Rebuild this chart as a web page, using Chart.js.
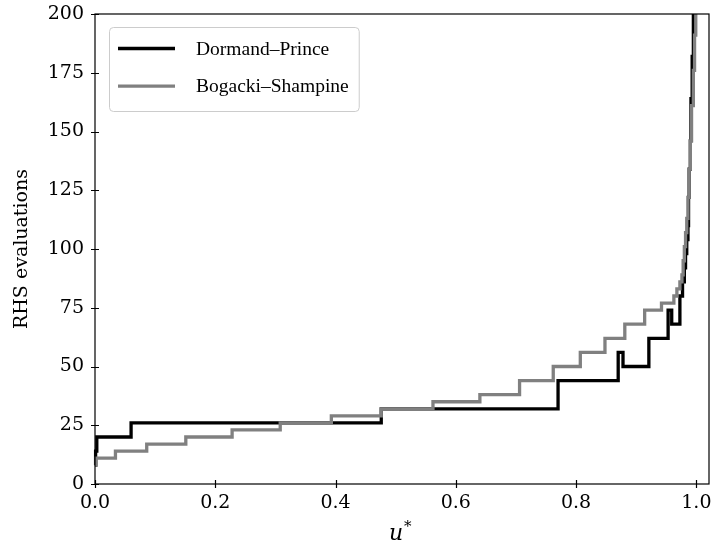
<!DOCTYPE html>
<html>
<head>
<meta charset="utf-8">
<script src="https://cdn.jsdelivr.net/npm/chart.js@4.4.1/dist/chart.umd.min.js"></script>
<style>
  html, body { margin: 0; padding: 0; background: #fff; }
</style>
</head>
<body>
<canvas id="chart" width="714" height="558"></canvas>
<script>
// data: start of each step (u*) and RHS evaluations on that step
const dpU     = [0, 0.001, 0.003, 0.060, 0.476, 0.770, 0.870, 0.878, 0.921, 0.953, 0.959, 0.9726,
                 0.977, 0.980, 0.982, 0.984, 0.986, 0.987, 0.988, 0.990, 0.991, 0.993, 0.995];
const dpEvals = [8, 14, 20, 26, 32, 44, 56, 50, 62, 74, 68, 80,
                 86, 92, 98, 104, 110, 122, 134, 146, 164, 182, 206];

const bsU     = [0, 0.002, 0.034, 0.086, 0.151, 0.228, 0.308, 0.393, 0.476, 0.562, 0.640, 0.706,
                 0.762, 0.807, 0.848, 0.881, 0.914, 0.942, 0.9626, 0.9676, 0.9726, 0.976, 0.978,
                 0.980, 0.982, 0.984, 0.986, 0.988, 0.990, 0.992, 0.995, 0.997, 0.999];
const bsEvals = [8, 11, 14, 17, 20, 23, 26, 29, 32, 35, 38, 44,
                 50, 56, 62, 68, 74, 77, 80, 83, 86, 89, 95,
                 101, 107, 113, 122, 134, 146, 161, 176, 191, 206];

const xTicks = [0, 0.2, 0.4, 0.6, 0.8, 1.0];
const xTickLabels = ['0.0', '0.2', '0.4', '0.6', '0.8', '1.0'];
const yTicks = [0, 25, 50, 75, 100, 125, 150, 175, 200];
const yTickLabels = ['0', '25', '50', '75', '100', '125', '150', '175', '200'];

const seriesNames = ['Dormand\u2013Prince', 'Bogacki\u2013Shampine'];
const seriesColors = ['#000000', '#808080'];

const FONT = 'DejaVu Serif';
const FONT_SIZE = 19;
const LEGEND_FONT = 'Liberation Serif';

const zip = (xs, ys) => xs.map((x, i) => ({ x, y: ys[i] }));

// frame, inout ticks, legend and axis titles (matplotlib look)
const decorations = {
  id: 'decorations',
  afterDatasetsDraw(chart) {
    const { ctx, chartArea: a, scales: { x, y } } = chart;
    ctx.save();
    ctx.strokeStyle = '#000';
    ctx.lineWidth = 1.2;
    ctx.strokeRect(a.left, a.top, a.right - a.left, a.bottom - a.top);

    ctx.beginPath();
    xTicks.forEach(v => {
      const px = Math.round(x.getPixelForValue(v)) + 0.5;
      ctx.moveTo(px, a.bottom - 4);
      ctx.lineTo(px, a.bottom + 4);
    });
    yTicks.forEach(v => {
      const py = Math.round(y.getPixelForValue(v)) + 0.5;
      ctx.moveTo(a.left - 4, py);
      ctx.lineTo(a.left + 4, py);
    });
    ctx.stroke();

    // legend
    ctx.font = `19.5px "${LEGEND_FONT}"`;
    const textX = a.left + 101;
    const widths = seriesNames.map(n => ctx.measureText(n).width);
    const boxL = a.left + 14, boxT = 27, boxB = 111;
    const boxR = textX + Math.max(...widths) + 10;
    ctx.beginPath();
    ctx.roundRect(boxL + 0.5, boxT + 0.5, boxR - boxL, boxB - boxT, 4);
    ctx.fillStyle = 'rgba(255,255,255,0.8)';
    ctx.fill();
    ctx.strokeStyle = '#cccccc';
    ctx.lineWidth = 1;
    ctx.stroke();
    seriesNames.forEach((name, i) => {
      const ly = 48.5 + i * 37.7;
      ctx.beginPath();
      ctx.strokeStyle = seriesColors[i];
      ctx.lineWidth = 3.3;
      ctx.moveTo(a.left + 23, ly);
      ctx.lineTo(a.left + 80, ly);
      ctx.stroke();
      ctx.fillStyle = '#000';
      ctx.textBaseline = 'middle';
      ctx.textAlign = 'left';
      ctx.fillText(name, textX, ly + 1);
    });

    // y title
    ctx.font = `${FONT_SIZE}px "${FONT}"`;
    ctx.save();
    ctx.translate(22, (a.top + a.bottom) / 2);
    ctx.rotate(-Math.PI / 2);
    ctx.textAlign = 'center';
    ctx.textBaseline = 'middle';
    ctx.fillText('RHS evaluations', 0, 0);
    ctx.restore();

    // x title: italic u with superscript asterisk
    const cx = (a.left + a.right) / 2 - 6;
    ctx.font = `italic 22px "${FONT}"`;
    ctx.textAlign = 'left';
    ctx.textBaseline = 'alphabetic';
    const uw = ctx.measureText('u').width;
    ctx.fillText('u', cx - uw / 2, 540);
    ctx.font = `15px "${FONT}"`;
    ctx.fillText('*', cx + uw / 2 + 1, 531);
    ctx.restore();
  }
};

new Chart(document.getElementById('chart'), {
  type: 'line',
  data: {
    datasets: [
      {
        label: seriesNames[0],
        data: zip(dpU, dpEvals),
        borderColor: seriesColors[0],
        borderWidth: 3.3,
        stepped: 'before',
        pointRadius: 0,
        fill: false,
        order: 1,
        clip: { left: 3, right: 0, top: 0, bottom: 0 }
      },
      {
        label: seriesNames[1],
        data: zip(bsU, bsEvals),
        borderColor: seriesColors[1],
        borderWidth: 3.3,
        stepped: 'before',
        pointRadius: 0,
        fill: false,
        order: 0,
        clip: { left: 3, right: 0, top: 0, bottom: 0 }
      }
    ]
  },
  options: {
    responsive: false,
    animation: false,
    layout: { padding: { top: 14, right: 5, left: 0, bottom: 0 } },
    plugins: { legend: { display: false }, tooltip: { enabled: false } },
    scales: {
      x: {
        type: 'linear',
        min: 0,
        max: 1.021,
        grid: { display: false, drawTicks: false },
        border: { display: false },
        afterBuildTicks: s => { s.ticks = xTicks.map(v => ({ value: v })); },
        afterFit: s => { s.height = 74; s.paddingLeft = 0; s.paddingRight = 0; },
        ticks: {
          color: '#000',
          padding: 8,
          maxRotation: 0,
          font: { family: FONT, size: FONT_SIZE },
          callback: v => xTickLabels[xTicks.indexOf(v)]
        }
      },
      y: {
        type: 'linear',
        min: 0,
        max: 200,
        grid: { display: false, drawTicks: false },
        border: { display: false },
        afterBuildTicks: s => { s.ticks = yTicks.map(v => ({ value: v })); },
        afterFit: s => { s.width = 95; s.paddingTop = 0; s.paddingBottom = 0; },
        ticks: {
          color: '#000',
          padding: 11,
          font: { family: FONT, size: FONT_SIZE },
          callback: v => yTickLabels[yTicks.indexOf(v)]
        }
      }
    }
  },
  plugins: [decorations]
});
</script>
</body>
</html>
